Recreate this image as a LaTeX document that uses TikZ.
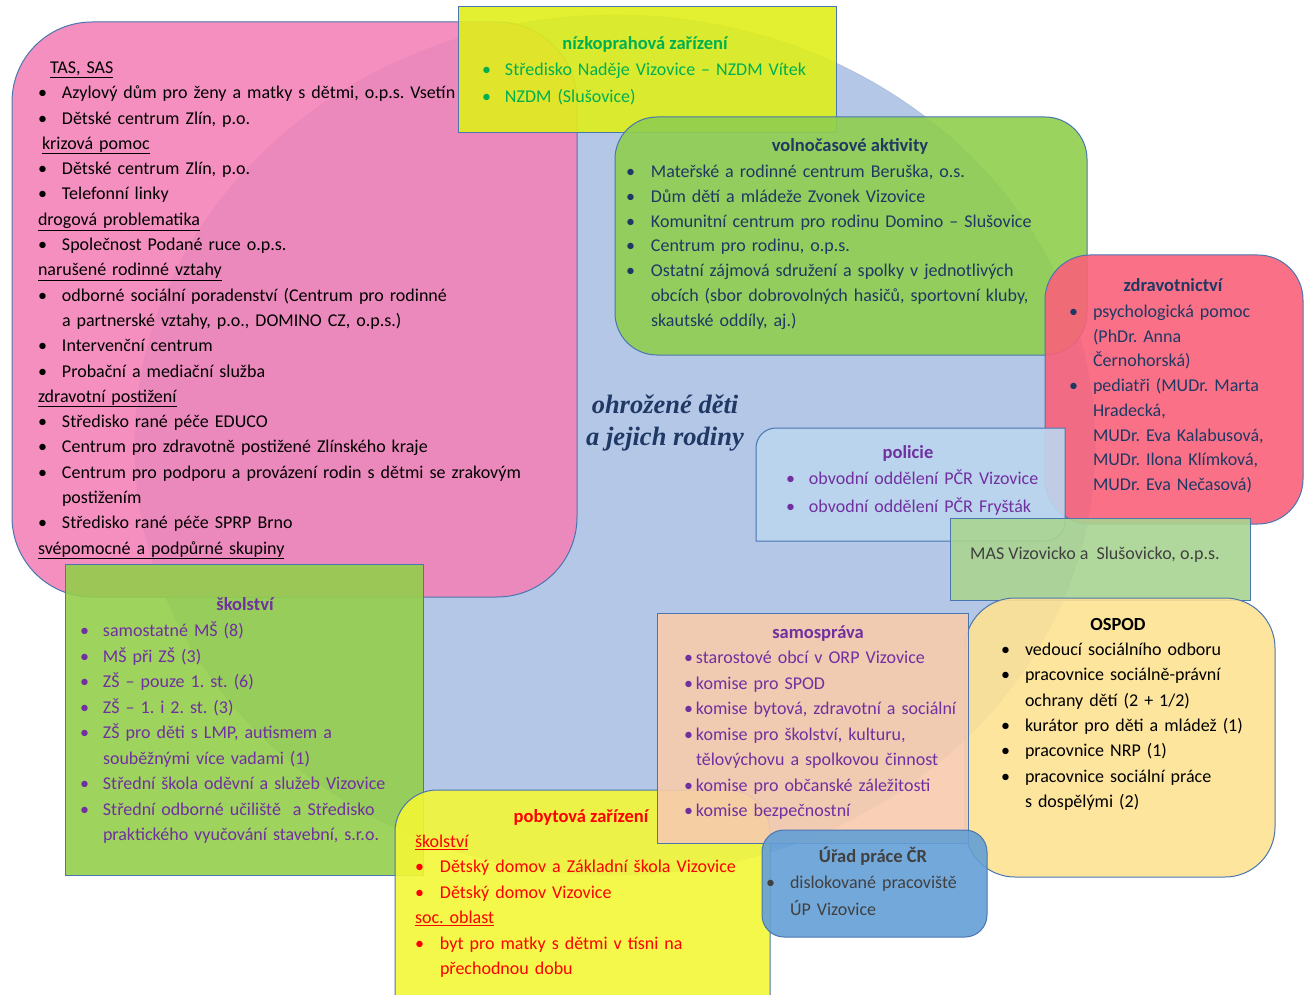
\documentclass[tikz,border=0pt]{standalone}
\usepackage{fontspec}
\setmainfont{Carlito}
\newfontfamily\serifbi{Liberation Serif}
\setlength\parindent{0pt}
\frenchspacing
\definecolor{bordc}{HTML}{4A76B0}
\definecolor{ellc}{HTML}{B4C7E7}
\definecolor{pinkc}{HTML}{F383B8}
\definecolor{yelc}{HTML}{DFEE1B}
\definecolor{grnc}{HTML}{90CE4E}
\definecolor{redc}{HTML}{F9627A}
\definecolor{polc}{HTML}{BCD6EF}
\definecolor{masc}{HTML}{A9D491}
\definecolor{ospc}{HTML}{FDE293}
\definecolor{samc}{HTML}{F8CBAD}
\definecolor{uprc}{HTML}{649FD6}
\definecolor{pobc}{HTML}{F3F736}
\definecolor{skoc}{HTML}{93CE4C}
\definecolor{txgreen}{HTML}{00B050}
\definecolor{txnavy}{HTML}{1F3864}
\definecolor{txpurp}{HTML}{7030A0}
\definecolor{txred}{HTML}{FF0000}
\definecolor{txgray}{HTML}{404040}
\newlength\bw
\newcommand\bl[1]{\makebox[\bw][l]{\textbullet}#1}
\newcommand\cn[1]{\hspace*{\bw}#1}
\newcommand\fr{\rule{0pt}{17pt}}
\newcommand\lf[1]{\fontsize{18}{#1}\selectfont}
\tikzset{
  box/.style={draw=bordc, line width=1pt, fill opacity=0.9},
  lst/.style={anchor=north west, inner sep=0pt, outer sep=0pt, align=left, text width=#1},
  ttl/.style={anchor=base, inner sep=0pt, font=\fontsize{18.5}{22}\selectfont\bfseries},
}
\begin{document}
\begin{tikzpicture}[x=1pt,y=-1pt]
\useasboundingbox (0,0) rectangle (1304,995);
% central ellipse
\path[fill=ellc, draw=bordc!45, line width=0.8pt] (615,445) ellipse [x radius=480, y radius=430];
% pink box
\path[box, fill=pinkc, rounded corners=80pt] (12,22) rectangle (577,597);
\node[lst=600, font=\lf{25.3}] (pinklist) at (38,56.5) {\setlength\bw{24pt}\fr
\hspace*{12pt}\underline{TAS, SAS}\\
\bl{Azylový dům pro ženy a matky s dětmi, o.p.s. Vsetín}\\
\bl{Dětské centrum Zlín, p.o.}\\
\hspace*{4pt}\underline{krizová pomoc}\\
\bl{Dětské centrum Zlín, p.o.}\\
\bl{Telefonní linky}\\
\underline{drogová problematika}\\
\bl{Společnost Podané ruce o.p.s.}\\
\underline{narušené rodinné vztahy}\\
\bl{odborné sociální poradenství (Centrum pro rodinné}\\
\cn{a partnerské vztahy, p.o., DOMINO CZ, o.p.s.)}\\
\bl{Intervenční centrum}\\
\bl{Probační a mediační služba}\\
\underline{zdravotní postižení}\\
\bl{Středisko rané péče EDUCO}\\
\bl{Centrum pro zdravotně postižené Zlínského kraje}\\
\bl{Centrum pro podporu a provázení rodin s dětmi se zrakovým}\\
\cn{postižením}\\
\bl{Středisko rané péče SPRP Brno}\\
\underline{svépomocné a podpůrné skupiny}};
% yellow low-threshold box
\path[box, fill=yelc] (458,7) rectangle (836,133);
\node[ttl, text=txgreen] (nizkot) at (645,49.5) {nízkoprahová zařízení};
\node[lst=420, font=\lf{27}, text=txgreen] (nizkol) at (482,58.5) {\setlength\bw{23pt}\fr
\bl{Středisko Naděje Vizovice – NZDM Vítek}\\
\bl{NZDM (Slušovice)}};
% green leisure box
\path[box, fill=grnc, rounded corners=42pt] (615,117) rectangle (1087,355);
\node[ttl, text=txnavy] (volnot) at (850,151.5) {volnočasové aktivity};
\node[lst=520, font=\lf{24.8}, text=txnavy] (volnol) at (626,160.5) {\setlength\bw{25pt}\fr
\bl{Mateřské a rodinné centrum Beruška, o.s.}\\
\bl{Dům dětí a mládeže Zvonek Vizovice}\\
\bl{Komunitní centrum pro rodinu Domino – Slušovice}\\
\bl{Centrum pro rodinu, o.p.s.}\\
\bl{Ostatní zájmová sdružení a spolky v jednotlivých}\\
\cn{obcích (sbor dobrovolných hasičů, sportovní kluby,}\\
\cn{skautské oddíly, aj.)}};
% red health box
\path[box, fill=redc, rounded corners=45pt] (1045,255) rectangle (1303,524);
\node[ttl, text=txnavy] (zdravt) at (1173,291.5) {zdravotnictví};
\node[lst=260, font=\lf{24.7}, text=txnavy] (zdravl) at (1069,300.5) {\setlength\bw{24pt}\fr
\bl{psychologická pomoc}\\
\cn{(PhDr. Anna}\\
\cn{Černohorská)}\\
\bl{pediatři (MUDr. Marta}\\
\cn{Hradecká,}\\
\cn{MUDr. Eva Kalabusová,}\\
\cn{MUDr. Ilona Klímková,}\\
\cn{MUDr. Eva Nečasová)}};
% police box
\path[box, fill=polc] (756,541) -- (756,448) arc[start angle=180, end angle=270, radius=20] -- (1065,428) -- (1065,521) arc[start angle=0, end angle=90, radius=20] -- cycle;
\node[ttl, text=txpurp] (polt) at (908,458.5) {policie};
\node[lst=300, font=\lf{28}, text=txpurp] (poll) at (786,467.5) {\setlength\bw{23pt}\fr
\bl{obvodní oddělení PČR Vizovice}\\
\bl{obvodní oddělení PČR Fryšták}};
% MAS box
\path[box, fill=masc] (950,518) rectangle (1250,600);
\node[anchor=base west, inner sep=0pt, font=\fontsize{18}{22}\selectfont, text=txgray] (mas) at (970,559.5) {MAS Vizovicko a \ Slušovicko, o.p.s.};
% OSPOD box
\path[box, fill=ospc, rounded corners=50pt] (965,598) rectangle (1275,877);
\node[ttl, text=black] (ospt) at (1118,630.5) {OSPOD};
\node[lst=300, font=\lf{25.3}, text=black] (ospl) at (1001,638.5) {\setlength\bw{24pt}\fr
\bl{vedoucí sociálního odboru}\\
\bl{pracovnice sociálně-právní}\\
\cn{ochrany dětí (2 + 1/2)}\\
\bl{kurátor pro děti a mládež (1)}\\
\bl{pracovnice NRP (1)}\\
\bl{pracovnice sociální práce}\\
\cn{s dospělými (2)}};
% school box
\path[box, fill=skoc] (65,564) rectangle (423,875);
\node[ttl, text=txpurp] (skot) at (245,610.5) {školství};
\node[lst=380, font=\lf{25.5}, text=txpurp] (skol) at (80,619.5) {\setlength\bw{23pt}\fr
\bl{samostatné MŠ (8)}\\
\bl{MŠ při ZŠ (3)}\\
\bl{ZŠ – pouze 1. st. (6)}\\
\bl{ZŠ – 1. i 2. st. (3)}\\
\bl{ZŠ pro děti s LMP, autismem a}\\
\cn{souběžnými více vadami (1)}\\
\bl{Střední škola oděvní a služeb Vizovice}\\
\bl{Střední odborné učiliště \ a Středisko}\\
\cn{praktického vyučování stavební, s.r.o.}};
% residential box
\path[box, fill=pobc, rounded corners=42pt] (395,790) rectangle (770,1040);
\node[ttl, text=txred] (pobt) at (581,822.5) {pobytová zařízení};
\node[lst=400, font=\lf{25.4}, text=txred] (pobl) at (415,830.5) {\setlength\bw{25pt}\fr
\underline{školství}\\
\bl{Dětský domov a Základní škola Vizovice}\\
\bl{Dětský domov Vizovice}\\
\underline{soc. oblast}\\
\bl{byt pro matky s dětmi v tísni na}\\
\cn{přechodnou dobu}};
% self-government box
\path[box, fill=samc] (657,613) rectangle (968,843);
\node[ttl, text=txpurp] (samt) at (818,638.5) {samospráva};
\node[lst=320, font=\lf{25.5}, text=txpurp] (saml) at (684,646.5) {\setlength\bw{12pt}\fr
\bl{starostové obcí v ORP Vizovice}\\
\bl{komise pro SPOD}\\
\bl{komise bytová, zdravotní a sociální}\\
\bl{komise pro školství, kulturu,}\\
\cn{tělovýchovu a spolkovou činnost}\\
\bl{komise pro občanské záležitosti}\\
\bl{komise bezpečnostní}};
% labour office box
\path[box, fill=uprc, rounded corners=22pt] (762,830) rectangle (987,937);
\node[ttl, text=txgray] (uprt) at (873,862.5) {Úřad práce ČR};
\node[lst=240, font=\lf{27}, text=txgray] (uprl) at (766,871.5) {\setlength\bw{24pt}\fr
\bl{dislokované pracoviště}\\
\cn{ÚP Vizovice}};
% central title
\node[anchor=base, inner sep=0pt, text=txnavy, font=\serifbi\bfseries\itshape\fontsize{26.5}{30}\selectfont] (ctr1) at (665,413) {ohrožené děti};
\node[anchor=base, inner sep=0pt, text=txnavy, font=\serifbi\bfseries\itshape\fontsize{26.5}{30}\selectfont] (ctr2) at (665,445) {a jejich rodiny};
\end{tikzpicture}
\end{document}
